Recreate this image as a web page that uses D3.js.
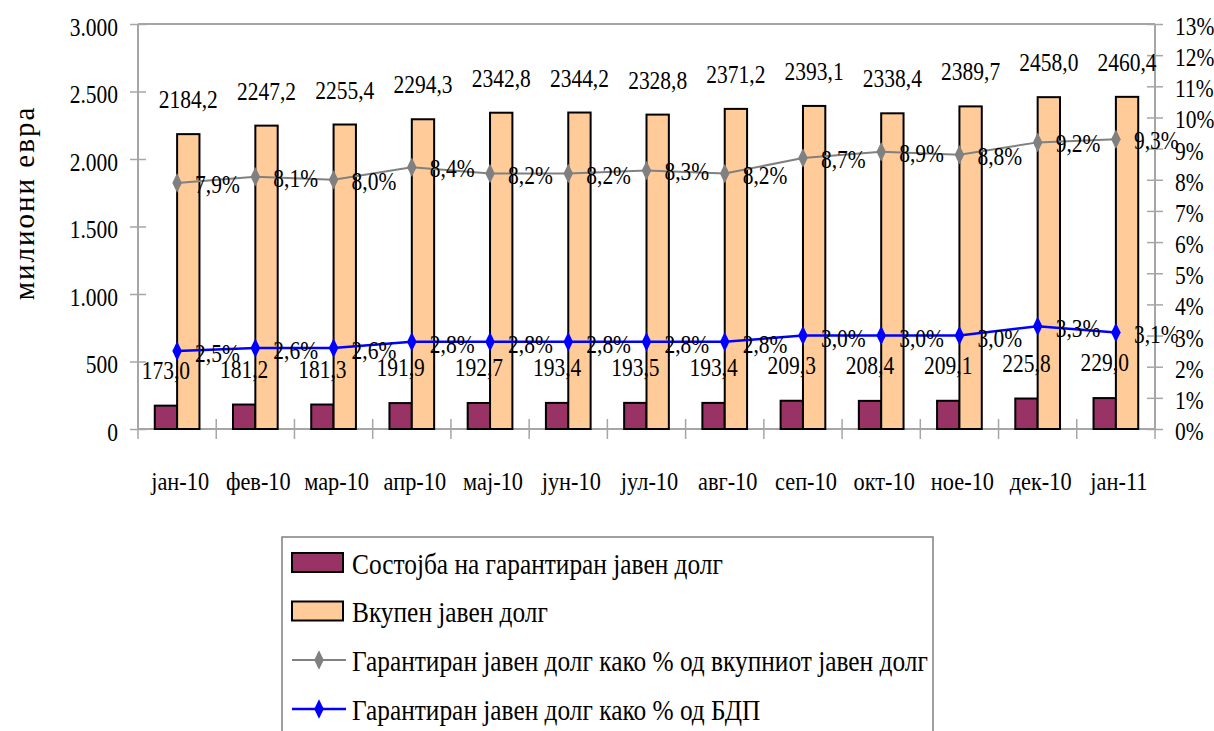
<!DOCTYPE html>
<html><head><meta charset="utf-8">
<script src="https://cdn.jsdelivr.net/npm/d3@7"></script>
<style>
html,body{margin:0;padding:0;background:#fff;}
svg text{font-family:"Liberation Serif","Times New Roman",serif;fill:#000;}
</style></head>
<body><svg id="chart" width="1214" height="731"></svg>
<script>
const categories = ["јан-10","фев-10","мар-10","апр-10","мај-10","јун-10","јул-10","авг-10","сеп-10","окт-10","ное-10","дек-10","јан-11"];
const guaranteedDebt = [173.0,181.2,181.3,191.9,192.7,193.4,193.5,193.4,209.3,208.4,209.1,225.8,229.0];
const totalDebt = [2184.2,2247.2,2255.4,2294.3,2342.8,2344.2,2328.8,2371.2,2393.1,2338.4,2389.7,2458.0,2460.4];
const pctOfTotal = [7.9,8.1,8.0,8.4,8.2,8.2,8.3,8.2,8.7,8.9,8.8,9.2,9.3];
const pctOfGDP = [2.5,2.6,2.6,2.8,2.8,2.8,2.8,2.8,3.0,3.0,3.0,3.3,3.1];
const leftTicks = [0,500,1000,1500,2000,2500,3000];
const rightTicks = [0,1,2,3,4,5,6,7,8,9,10,11,12,13];
const seriesNames = ["Состојба на гарантиран јавен долг","Вкупен јавен долг","Гарантиран јавен долг како % од вкупниот јавен долг","Гарантиран јавен долг како % од БДП"];
const yTitle = "милиони евра";

const SX = 0.86;
const FS = 25;
const svg = d3.select("#chart");
const L = 138, R = 1155, T = 24, B = 429;
const axisColor = "#a6a6a6";

const x = d3.scaleBand().domain(categories).range([L, R]).paddingInner(0).paddingOuter(0);
const yL = d3.scaleLinear().domain([0, 3000]).range([B, T]);
const yR = d3.scaleLinear().domain([0, 13]).range([B, T]);
const bw = x.bandwidth();
const barW = bw / 3.5;
const gStart = c => x(c) + (bw - 2 * barW) / 2;
const cx = c => x(c) + bw / 2;

function txt(parent, px, py, s, anchor, size) {
  return parent.append("text")
    .attr("transform", `translate(${px},${py}) scale(${SX},1)`)
    .attr("text-anchor", anchor || "start")
    .style("font-size", (size || FS) + "px")
    .text(s);
}

// plot frame (top border)
svg.append("line").attr("x1", L).attr("x2", R).attr("y1", T).attr("y2", T)
  .attr("stroke", axisColor).attr("stroke-width", 2);

// Left axis
const fmtL = d => d3.format(",")(d).replace(/,/g, ".");
const gL = svg.append("g").attr("transform", `translate(${L},0)`)
  .call(d3.axisLeft(yL).tickValues(leftTicks).tickFormat(fmtL).tickSize(8).tickPadding(20));
gL.select(".domain").attr("stroke", axisColor).attr("stroke-width", 2).attr("d", `M0,${T}V${B}`);
gL.selectAll(".tick line").attr("stroke", axisColor).attr("stroke-width", 1.5).attr("x1", 8);
gL.selectAll(".tick text").style("font-size", FS + "px")
  .attr("x", -20 / SX).attr("dy", "0.45em").attr("transform", `scale(${SX},1)`);
gL.attr("font-family", null).attr("font-size", null);

// Right axis
const gR = svg.append("g").attr("transform", `translate(${R},0)`)
  .call(d3.axisRight(yR).tickValues(rightTicks).tickFormat(d => d + "%").tickSize(8).tickPadding(20));
gR.select(".domain").attr("stroke", axisColor).attr("stroke-width", 2).attr("d", `M0,${T}V${B}`);
gR.selectAll(".tick line").attr("stroke", axisColor).attr("stroke-width", 1.5).attr("x1", -8);
gR.selectAll(".tick text").style("font-size", FS + "px")
  .attr("x", 20 / SX).attr("dy", "0.42em").attr("transform", `scale(${SX},1)`);
gR.attr("font-family", null).attr("font-size", null);

// Bottom axis
const gB = svg.append("g").attr("transform", `translate(0,${B})`)
  .call(d3.axisBottom(x).tickSize(0).tickPadding(0).tickFormat(""));
gB.select(".domain").attr("stroke", axisColor).attr("stroke-width", 2).attr("d", `M${L},0H${R}`);
gB.selectAll(".tick").remove();
categories.forEach((c, i) => {
  const xx = x(c);
  if (i > 0) svg.append("line").attr("x1", xx).attr("x2", xx).attr("y1", B - 10).attr("y2", B + 10)
    .attr("stroke", axisColor).attr("stroke-width", 1.5);
});
svg.append("line").attr("x1", R).attr("x2", R).attr("y1", B).attr("y2", B + 10).attr("stroke", axisColor).attr("stroke-width", 1.5);
svg.append("line").attr("x1", L).attr("x2", L).attr("y1", B).attr("y2", B + 10).attr("stroke", axisColor).attr("stroke-width", 1.5);
categories.forEach(c => txt(svg, cx(c) + 3, B + 61, c, "middle", 26));

// Y title
svg.append("text").attr("transform", `translate(34,203) rotate(-90)`)
  .attr("text-anchor", "middle").style("font-size", "29px").style("letter-spacing", "2px")
  .text(yTitle);

// Bars
categories.forEach((c, i) => {
  const g0 = gStart(c);
  svg.append("rect").attr("x", g0).attr("y", yL(guaranteedDebt[i])).attr("width", barW)
    .attr("height", B - yL(guaranteedDebt[i])).attr("fill", "#993366").attr("stroke", "#000").attr("stroke-width", 2);
  svg.append("rect").attr("x", g0 + barW).attr("y", yL(totalDebt[i])).attr("width", barW)
    .attr("height", B - yL(totalDebt[i])).attr("fill", "#FFCC99").attr("stroke", "#000").attr("stroke-width", 2);
});

// Lines
const diamond = d3.symbol().type(d3.symbolDiamond).size(110);
function drawLine(vals, color, w) {
  const line = d3.line().x((d, i) => cx(categories[i])).y(d => yR(d));
  svg.append("path").datum(vals).attr("d", line).attr("fill", "none").attr("stroke", color).attr("stroke-width", w);
  vals.forEach((v, i) => {
    svg.append("path").attr("d", diamond).attr("transform", `translate(${cx(categories[i])},${yR(v)}) scale(0.85,1)`).attr("fill", color);
  });
}
drawLine(pctOfTotal, "#808080", 2);
drawLine(pctOfGDP, "#0000ff", 2.5);

// Labels
const fmt1 = d => d3.format(".1f")(d).replace(".", ",");
categories.forEach((c, i) => {
  const g0 = gStart(c);
  txt(svg, g0 + barW * 1.5, yL(totalDebt[i]) - 26, fmt1(totalDebt[i]), "middle");
  txt(svg, g0 + barW * 0.5, yL(guaranteedDebt[i]) - 27, fmt1(guaranteedDebt[i]), "middle");
  txt(svg, cx(c) + 18, yR(pctOfTotal[i]) + 10, fmt1(pctOfTotal[i]) + "%", "start");
  txt(svg, cx(c) + 18, yR(pctOfGDP[i]) + 11, fmt1(pctOfGDP[i]) + "%", "start");
});

// Legend
const lg = svg.append("g");
lg.append("rect").attr("x", 282).attr("y", 537).attr("width", 651).attr("height", 220)
  .attr("fill", "#fff").attr("stroke", "#808080").attr("stroke-width", 1.5);
const rowY = [562.5, 611, 660, 709];
lg.append("rect").attr("x", 292).attr("y", rowY[0] - 9.5).attr("width", 51).attr("height", 19)
  .attr("fill", "#993366").attr("stroke", "#000").attr("stroke-width", 2);
lg.append("rect").attr("x", 292).attr("y", rowY[1] - 9.5).attr("width", 51).attr("height", 19)
  .attr("fill", "#FFCC99").attr("stroke", "#000").attr("stroke-width", 2);
[["#808080", 2, rowY[2]], ["#0000ff", 2.5, rowY[3]]].forEach(([col, w, yy]) => {
  lg.append("line").attr("x1", 292).attr("x2", 346).attr("y1", yy).attr("y2", yy).attr("stroke", col).attr("stroke-width", w);
  lg.append("path").attr("d", diamond).attr("transform", `translate(319,${yy}) scale(0.85,1)`).attr("fill", col);
});
seriesNames.forEach((s, i) => txt(lg, 352, rowY[i] + 11, s, "start", 29.5));
</script></body></html>
